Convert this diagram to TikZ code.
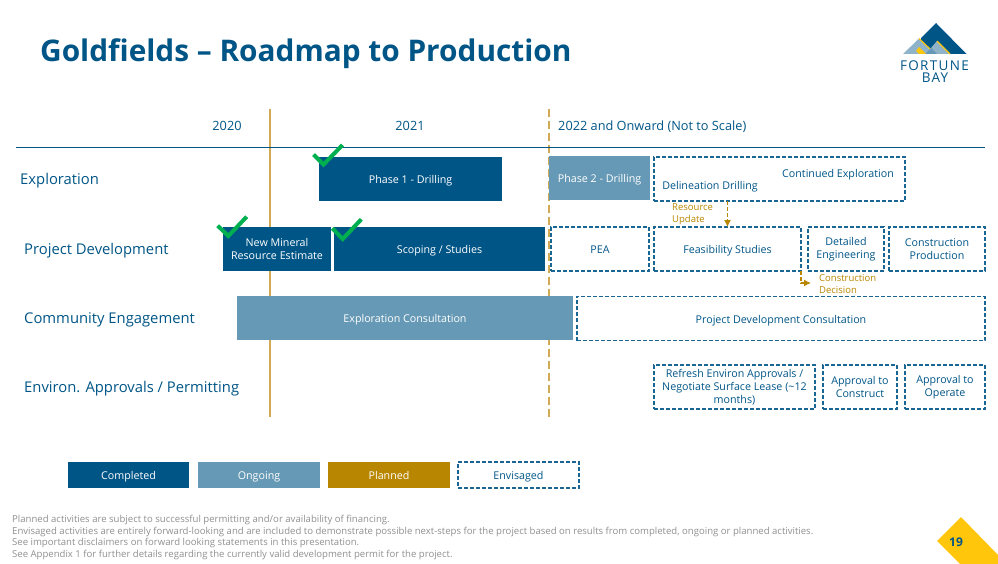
\documentclass[tikz,border=0pt]{standalone}
\usepackage{fontspec}
\setmainfont{Open Sans}
\usetikzlibrary{arrows.meta}
\definecolor{fbblue}{HTML}{005587}
\definecolor{fbmid}{HTML}{6699B5}
\definecolor{fblight}{HTML}{8FB3C9}
\definecolor{fbgold}{HTML}{B88600}
\definecolor{fbline}{HTML}{D2A955}
\definecolor{fbyellow}{HTML}{FFC60B}
\definecolor{fbgreen}{HTML}{00B050}
\definecolor{fbgrey}{HTML}{8F8F8F}
\tikzset{
    basebox/.style = {inner sep = 0pt, outer sep = 0pt, align = center, minimum height = 44pt,
                      font = \fontsize{10.7}{13}\selectfont},
    oneline/.style = {text height = 9.5pt, text depth = 0pt},
    donebox/.style = {basebox, fill = fbblue, text = white},
    ongoingbox/.style = {basebox, fill = fbmid, text = white},
    plannedbox/.style = {basebox, fill = fbgold, text = white},
    envisagedbox/.style = {basebox, draw = fbblue!90, line width = 1.3pt, dash pattern = on 4pt off 2pt,
                           text = fbblue},
    rowlabel/.style = {anchor = west, inner sep = 0pt, text = fbblue, text height = 11pt, text depth = 3pt,
                       font = \fontsize{14.8}{18}\selectfont},
    yearlabel/.style = {inner sep = 0pt, text = fbblue, text height = 9pt, text depth = 3pt,
                        font = \fontsize{12.75}{15}\selectfont},
    goldnote/.style = {anchor = west, inner sep = 0pt, align = left, text = fbgold,
                       font = \fontsize{9.5}{12}\selectfont},
    goldarrow/.style = {draw = fbgold, line width = 1.1pt, dash pattern = on 4pt off 2pt,
                        -{Latex[length = 7pt, width = 7pt]}},
    tick/.style = {draw = fbgreen, line width = 4pt},
    logotext/.style = {inner sep = 0pt, text = fbblue, font = \fontsize{13.5}{15}\selectfont\addfontfeatures{LetterSpace = 10}}
}

\begin{document}
\begin{tikzpicture}[x = 1pt, y = -1pt]
    \useasboundingbox (0, 0) rectangle (998, 564);

    \node [anchor = west, inner sep = 0pt, text = fbblue, font = \fontsize{29.8}{36}\bfseries\selectfont] (title) at (40, 54) {Goldfields – Roadmap to Production};

    \fill [fbblue] (936, 23) -- (966.5, 54) -- (921, 54) -- (921, 38) -- cycle;
    \fill [fblight] (903, 54) -- (919, 38.5) -- (930, 49) -- (937, 41) -- (950, 54) -- cycle;
    \fill [fbmid] (925, 54) -- (931, 48) -- (937, 54) -- cycle;
    \fill [fbyellow] (916, 51) -- (919, 47) -- (926, 54) -- (919, 54) -- cycle;
    \draw [fbyellow, line width = 1.2pt] (919, 38.5) -- (930, 49);
    \draw [fbyellow, line width = 1.2pt] (937, 41) -- (950, 54);
    \node [logotext] (fortune) at (934.5, 66) {FORTUNE};
    \node [logotext] (bay) at (935, 78) {BAY};

    \draw [fbline, line width = 1.4pt] (270, 109) -- (270, 417);
    \draw [fbline, line width = 1.4pt, dash pattern = on 8pt off 4pt] (549, 109) -- (549, 417);
    \draw [fbblue, line width = 1pt] (16, 148) -- (985, 148);

    \node [yearlabel] (year0) at (227, 128) {2020};
    \node [yearlabel] (year1) at (410, 128) {2021};
    \node [yearlabel, anchor = west] (year2) at (558, 128) {2022 and Onward (Not to Scale)};

    \node [rowlabel] (rowa) at (20, 181) {Exploration};
    \node [rowlabel] (rowb) at (24, 250.5) {Project Development};
    \node [rowlabel] (rowc) at (24, 319.5) {Community Engagement};
    \node [rowlabel] (rowd) at (24, 388.5) {Environ. Approvals / Permitting};

    \node [donebox, oneline, minimum width = 183pt] (phasea) at (410.5, 179) {Phase 1 - Drilling};
    \node [ongoingbox, oneline, minimum width = 101pt] (phaseb) at (599.5, 178) {Phase 2 - Drilling};
    \node [envisagedbox, minimum width = 251pt] (explore) at (779.5, 179) {};
    \node [inner sep = 0pt, text = fbblue, oneline, font = \fontsize{10.7}{13}\selectfont] (contd) at (838, 173) {Continued Exploration};
    \node [inner sep = 0pt, text = fbblue, oneline, font = \fontsize{10.7}{13}\selectfont] (delin) at (710, 185) {Delineation Drilling};

    \node [donebox, minimum width = 108pt] (estimate) at (277, 249) {New Mineral\\Resource Estimate};
    \node [donebox, oneline, minimum width = 211pt] (scoping) at (439.5, 249) {Scoping / Studies};
    \node [envisagedbox, oneline, minimum width = 98pt] (pea) at (600, 249) {PEA};
    \node [envisagedbox, oneline, minimum width = 147pt] (feas) at (727.5, 249) {Feasibility Studies};
    \node [envisagedbox, minimum width = 76pt] (detail) at (846, 249) {Detailed\\Engineering};
    \node [envisagedbox, minimum width = 96pt] (constr) at (937, 249) {Construction\\Production};

    \node [ongoingbox, oneline, minimum width = 336pt] (consulta) at (405, 318) {Exploration Consultation};
    \node [envisagedbox, oneline, minimum width = 408pt] (consultb) at (781, 318.5) {Project Development Consultation};

    \node [envisagedbox, minimum width = 161pt] (refresh) at (734.5, 387) {Refresh Environ Approvals /\\Negotiate Surface Lease (\textasciitilde12\\months)};
    \node [envisagedbox, minimum width = 74pt] (appra) at (860, 387) {Approval to\\Construct};
    \node [envisagedbox, minimum width = 80pt] (apprb) at (945, 387) {Approval to\\Operate};

    \node [goldnote] (resupdate) at (672, 214.5) {Resource\\Update};
    \node [goldnote] (decision) at (819, 284) {Construction\\Decision};
    \coordinate (decpoint) at (811, 283);
    \draw [goldarrow] (feas.north |- explore.south) -- (feas.north);
    \draw [goldarrow] (feas.south east) |- (decpoint);

    \draw [tick] (313.5, 154.5) -- (323.5, 164.5) -- (342.5, 145);
    \draw [tick] (217.7, 225.7) -- (228.3, 236) -- (246.7, 216.7);
    \draw [tick] (332.3, 228.3) -- (342.7, 239) -- (361.3, 219.3);

    \node [donebox, oneline, minimum width = 121pt, minimum height = 26pt] (keya) at (128.5, 475) {Completed};
    \node [ongoingbox, oneline, minimum width = 122pt, minimum height = 26pt] (keyb) at (259, 475) {Ongoing};
    \node [plannedbox, oneline, minimum width = 122pt, minimum height = 26pt] (keyc) at (389, 475) {Planned};
    \node [envisagedbox, oneline, minimum width = 121pt, minimum height = 26pt] (keyd) at (518.5, 475) {Envisaged};

    \node [anchor = north west, inner sep = 0pt, align = left, text = fbgrey, font = \fontsize{9.57}{11.6}\selectfont] (notes) at (12, 515) {Planned activities are subject to successful permitting and/or availability of financing.\\Envisaged activities are entirely forward-looking and are included to demonstrate possible next-steps for the project based on results from completed, ongoing or planned activities.\\See important disclaimers on forward looking statements in this presentation.\\See Appendix 1 for further details regarding the currently valid development permit for the project.};

    \fill [fbyellow] (961, 517) -- (937, 541) -- (960, 564) -- (998, 564) -- (998, 555) -- cycle;
    \node [inner sep = 0pt, text = fbblue, font = \fontsize{12}{14}\bfseries\selectfont] (pageno) at (956, 542) {19};
\end{tikzpicture}
\end{document}
